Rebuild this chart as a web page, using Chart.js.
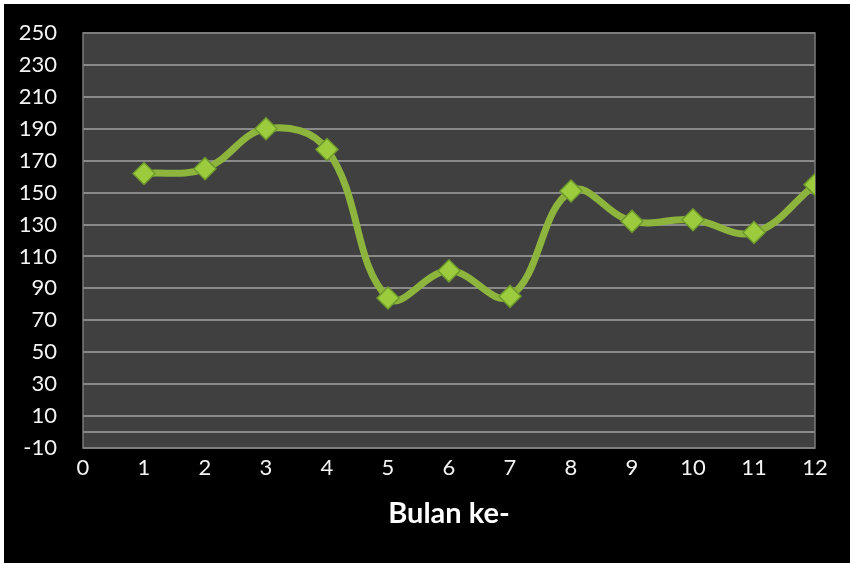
<!DOCTYPE html>
<html>
<head>
<meta charset="utf-8">
<script src="https://cdn.jsdelivr.net/npm/chart.js@4/dist/chart.umd.min.js"></script>
<style>
  html, body { margin: 0; padding: 0; background: #ffffff; }
  #wrap { position: absolute; left: 4px; top: 4px; width: 846px; height: 559px; background: #000000; }
  canvas { display: block; }
</style>
</head>
<body>
<div id="wrap"><canvas id="c" width="846" height="559"></canvas></div>
<script>
// Data
const months = [1, 2, 3, 4, 5, 6, 7, 8, 9, 10, 11, 12];
const values = [162, 165, 190, 177, 84, 101, 85, 151, 132, 133, 125, 155];
const xTitle = 'Bulan ke-';
const yMin = -10, yMax = 250, yStep = 20;
const xMin = 0, xMax = 12;

const points = months.map((m, i) => ({ x: m, y: values[i] }));

const plotBg = {
  id: 'plotBg',
  beforeDraw(chart) {
    const { ctx, chartArea: a } = chart;
    ctx.save();
    ctx.fillStyle = '#404040';
    ctx.fillRect(a.left, a.top, a.right - a.left, a.bottom - a.top);
    ctx.restore();
  },
  beforeDatasetsDraw(chart) {
    const { ctx, chartArea: a, scales } = chart;
    const y0 = scales.y.getPixelForValue(0);
    ctx.save();
    ctx.strokeStyle = '#8a8a8a';
    ctx.lineWidth = 2;
    ctx.beginPath();
    ctx.moveTo(a.left, y0);
    ctx.lineTo(a.right, y0);
    ctx.stroke();
    ctx.strokeStyle = '#7a7a7a';
    ctx.lineWidth = 1.5;
    ctx.strokeRect(a.left, a.top, a.right - a.left, a.bottom - a.top);
    ctx.restore();
  }
};

new Chart(document.getElementById('c'), {
  type: 'line',
  data: {
    datasets: [{
      data: points,
      borderColor: '#8db53e',
      borderWidth: 7,
      tension: 0.4,
      pointStyle: 'rectRot',
      pointRadius: 11,
      pointBackgroundColor: '#9ccc3e',
      pointBorderColor: '#6f9a2c',
      pointBorderWidth: 1.5,
      fill: false
    }]
  },
  options: {
    responsive: false,
    animation: false,
    layout: { padding: { top: 29, right: 35, left: 0, bottom: 0 } },
    plugins: { legend: { display: false }, tooltip: { enabled: false } },
    scales: {
      x: {
        type: 'linear',
        min: xMin, max: xMax,
        ticks: { stepSize: 1, color: '#f4f4f4', font: { family: 'Lato', size: 22 }, padding: 7 },
        grid: { display: false, drawTicks: false },
        border: { display: false },
        title: { display: true, text: xTitle, color: '#ffffff', font: { family: 'Lato', size: 29, weight: 'bold' }, padding: { top: 0, bottom: 32 } },
        afterFit(scale) { scale.height = 115; }
      },
      y: {
        min: yMin, max: yMax,
        ticks: { stepSize: yStep, color: '#f4f4f4', font: { family: 'Lato', size: 22 }, padding: 26 },
        grid: { color: '#8a8a8a', lineWidth: 2, drawTicks: false },
        border: { display: false },
        afterFit(scale) { scale.width = 79; scale.paddingTop = 0; scale.paddingBottom = 0; }
      }
    }
  },
  plugins: [plotBg]
});
</script>
</body>
</html>
